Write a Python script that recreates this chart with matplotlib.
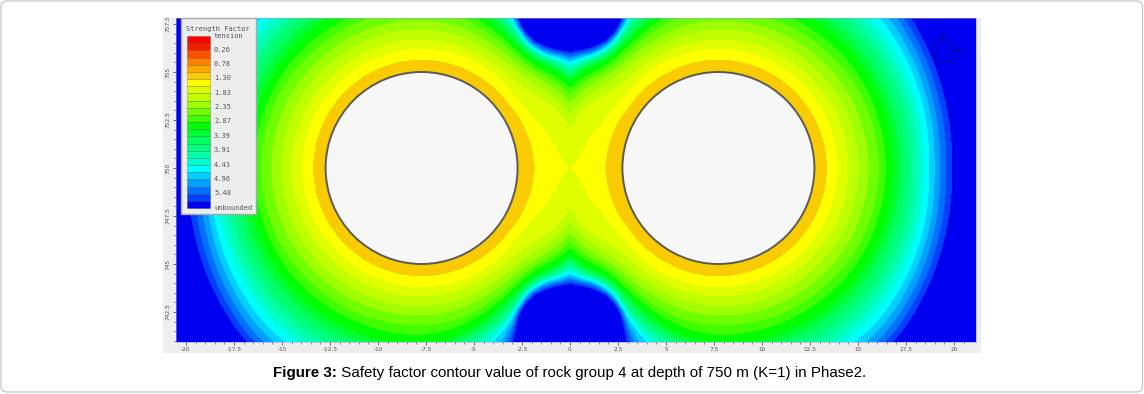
import numpy as np
import matplotlib
matplotlib.use("Agg")
import matplotlib.pyplot as plt
from matplotlib.patches import Circle, FancyBboxPatch, Rectangle

# ---- data (metres) ----
TUNNEL_X = 7.73
TUNNEL_R = 5.0
DEPTH = 750.0
# contour index: k is the boundary between legend row k and row k+1
K = [6, 7, 8, 9, 10, 11, 12, 13, 16, 19, 21, 23]
# angle at the tunnel centre (0 = towards the pillar) -> distance of each contour
RAY_ANGLES = [180, 165, 150, 135, 120, 105, 90, 75, 60, 52, 45, 40, 35, 30, 25, 20, 15, 10, 5, 0]
RAY_RADII = [
    [5.68, 6.25, 6.82, 7.34, 7.86, 8.39, 8.75, 9.11, 10.10, 10.99, 11.56, 12.19],
    [5.68, 6.25, 6.82, 7.34, 7.86, 8.39, 8.75, 9.17, 10.21, 11.15, 11.72, 12.34],
    [5.68, 6.25, 6.82, 7.34, 7.86, 8.39, 8.80, 9.22, 10.31, 11.35, 11.98, 12.60],
    [5.68, 6.25, 6.77, 7.29, 7.81, 8.33, 8.80, 9.27, 10.42, 11.56, 12.29, 12.92],
    [5.68, 6.25, 6.77, 7.29, 7.81, 8.33, 8.75, 9.27, 10.42, 11.56, 12.29, 12.92],
    [5.68, 6.25, 6.77, 7.29, 7.76, 8.28, 8.75, 9.27, 10.21, 11.15, 11.77, 12.29],
    [5.68, 6.25, 6.72, 7.24, 7.71, 8.23, 8.75, 9.27, 9.90, 10.63, 11.04, 11.90],
    [5.68, 6.25, 6.72, 7.19, 7.66, 8.13, 8.49, 8.91, 9.48, 10.42, 11.98, 13.54],
    [5.68, 6.25, 6.67, 7.08, 7.45, 7.81, 8.07, 8.33, 8.96, 9.27, 9.43, 9.64],
    [5.68, 6.25, 6.67, 7.08, 7.42, 7.71, 7.92, 8.13, 8.39, 8.54, 8.65, 8.75],
    [5.68, 6.20, 6.67, 7.08, 7.40, 7.66, 7.86, 8.07, 8.39, 8.65, 8.80, 9.01],
    [5.68, 6.20, 6.77, 7.24, 7.60, 7.86, 8.07, 8.33, 8.70, 8.90, 9.10, 9.40],
    [5.68, 6.20, 6.93, 7.45, 7.86, 8.18, 8.44, 8.85, 9.32, 9.80, 10.10, 10.44],
    [5.73, 6.30, 7.24, 7.76, 8.18, 8.49, 8.80, 9.01, 9.38, 9.90, 10.30, 10.80],
    [5.78, 6.41, 7.66, 8.07, 8.44, 8.75, 8.96, 9.17, 9.64, 10.21, 10.63, 11.15],
    [5.83, 6.61, 7.92, 8.33, 8.75, 9.11, 9.38, 9.64, 10.16, 10.78, 11.25, 11.77],
    [5.83, 6.88, 8.07, 8.49, 8.91, 9.32, 9.64, 9.90, 10.52, 11.15, 11.67, 12.29],
    [5.89, 7.08, 8.18, 8.65, 9.11, 9.53, 9.90, 10.21, 10.83, 11.46, 12.08, 12.76],
    [5.89, 7.29, 8.33, 8.85, 9.38, 9.79, 10.16, 10.52, 11.15, 11.88, 12.50, 13.13],
    [5.94, 7.73, 8.44, 8.96, 9.48, 10.00, 10.42, 10.83, 11.56, 12.29, 12.92, 13.54],
]

ROW_COLORS = ["#FF0000", "#EE2000", "#FF5000", "#FF8000", "#FFA800", "#F8CC00",
              "#FFFF00", "#DFFF00", "#BFFF00", "#9FFF00", "#70FF00", "#40FF00",
              "#00FF00", "#00FF30", "#00FF60", "#00FF80", "#00FFA8", "#00FFD0",
              "#00FFFF", "#00D0FF", "#00A0FF", "#0070FF", "#0040FF", "#0000F0"]
LEGEND_TITLE = "Strength Factor"
LEGEND_LABELS = ["tension", "0.26", "0.78", "1.30", "1.83", "2.35", "2.87", "3.39",
                 "3.91", "4.43", "4.96", "5.48", "unbounded"]
X_TICKS = [-20, -17.5, -15, -12.5, -10, -7.5, -5, -2.5, 0, 2.5, 5, 7.5, 10, 12.5, 15, 17.5, 20]
Y_TICKS = [742.5, 745, 747.5, 750, 752.5, 755, 757.5]
CAPTION_BOLD = "Figure 3:"
CAPTION = " Safety factor contour value of rock group 4 at depth of 750 m (K=1) in Phase2."

# ---- mesh round one tunnel: the read contours, with their corners rounded ----
table = np.array(RAY_RADII)
read_angles = np.array(RAY_ANGLES, dtype=float)
fine = np.arange(0.0, 181.0)
fine_r = np.column_stack([np.interp(fine, read_angles[::-1], table[::-1, j]) for j in range(table.shape[1])])
HALF = 5
kernel = np.ones(2 * HALF + 1) / (2 * HALF + 1)
pad = np.vstack([fine_r[HALF:0:-1], fine_r, fine_r[-2:-HALF - 2:-1]])
smooth = np.column_stack([np.convolve(pad[:, j], kernel, mode="valid") for j in range(pad.shape[1])])
# no rounding at the pillar centre, where the contours meet in a sharp X
blend = np.clip((fine - 5.0) / 10.0, 0, 1)[:, None]
smooth = blend * smooth + (1 - blend) * fine_r
angles = np.r_[-fine[::-1], fine[1:]]
radii = np.vstack([smooth[::-1], smooth[1:]])
radii = np.c_[np.full(len(angles), 4.6), radii, radii[:, -1] + 1.0, radii[:, -1] + 10.0]
values = np.array([5.2] + K + [24, 30], dtype=float)
th = np.deg2rad(angles)[:, None]
X = radii * np.cos(th)
Y = radii * np.sin(th)
V = np.tile(values, (len(angles), 1))

# ---- figure ----
W, H = 1144, 394
fig = plt.figure(figsize=(W / 100, H / 100), dpi=100, facecolor="white")

def px_axes(z):
    a = fig.add_axes([0, 0, 1, 1], zorder=z)
    a.set_xlim(0, W); a.set_ylim(H, 0); a.axis("off"); a.patch.set_alpha(0)
    return a

bg = px_axes(0)
bg.add_patch(FancyBboxPatch((1, 1), W - 2.5, H - 3, boxstyle="round,pad=0,rounding_size=6",
                            fc="white", ec="#C4C4C4", lw=0.9))
bg.add_patch(Rectangle((163, 15), 818, 338, fc="#EEEEEE", ec="none"))
bg.add_patch(Rectangle((163, 15), 818, 3, fc="white", ec="none"))

L, R, T, B = 176, 976, 18, 342
SCALE = 19.2
x0, x1 = (L - 570) / SCALE, (R - 570) / SCALE
y0, y1 = DEPTH - (B - 168) / SCALE, DEPTH + (168 - T) / SCALE
ax = fig.add_axes([L / W, 1 - B / H, (R - L) / W, (B - T) / H], zorder=1)

levels = list(range(5, 24)) + [100]
for side in (-1, 1):
    # each tunnel's field shows only on its own side of the pillar axis
    cs = ax.contourf(side * TUNNEL_X - side * X, DEPTH + Y, V,
                     levels=levels, colors=ROW_COLORS[5:], antialiased=False)
    left, width = (0.0, x1) if side > 0 else (x0, -x0)
    cs.set_clip_path(Rectangle((left, y0), width, y1 - y0, transform=ax.transData))
    cs.set_edgecolor("face")
    cs.set_linewidth(0.3)

for cx in (-TUNNEL_X, TUNNEL_X):
    ax.add_patch(Circle((cx, DEPTH), TUNNEL_R, fc="#F7F7F7", ec="#5A5A5A", lw=1.4, zorder=5))

ax.set_xlim(x0, x1)
ax.set_ylim(y0, y1)
ax.set_xticks(X_TICKS)
ax.set_xticklabels([f"{v:g}" for v in X_TICKS])
ax.set_yticks(Y_TICKS)
ax.set_yticklabels([f"{v:g}" for v in Y_TICKS], rotation=90, va="center")
ax.set_xticks(np.arange(-20, 21, 0.5), minor=True)
ax.set_yticks(np.arange(741, 758, 0.5), minor=True)
ax.tick_params(which="major", length=2.2, width=0.5, labelsize=4.2, labelcolor="#555555",
               color="#333333", pad=1.5)
ax.tick_params(which="minor", length=1.2, width=0.4, color="#333333")
for s in ax.spines.values():
    s.set_linewidth(0.4); s.set_color("#9A9AD0")

over = px_axes(2)
# compass symbol
over.add_patch(Rectangle((934, 43), 19, 17, fc="none", ec="#101070", lw=0.5))
over.annotate("", xy=(943, 43), xytext=(943, 28),
              arrowprops=dict(arrowstyle="-|>", color="#101070", lw=0.5, mutation_scale=5))
over.annotate("", xy=(953, 51), xytext=(967, 51),
              arrowprops=dict(arrowstyle="-|>", color="#101070", lw=0.5, mutation_scale=5))
# legend
over.add_patch(Rectangle((181, 18), 75, 196, fc="#EDEDED", ec="#A8A8A8", lw=1.0))
top, step = 36.0, 172.0 / 24
over.barh([top + step * (i + 0.5) for i in range(24)], [23] * 24, left=187, height=step,
          color=ROW_COLORS, edgecolor="#00000055", linewidth=0.4)
mono = dict(family="DejaVu Sans Mono", color="#555555", va="center")
over.text(186, 28.5, LEGEND_TITLE, fontsize=5.0, **mono)
ypos = [36] + [49.6 + 14.37 * i for i in range(11)] + [208]
for y, lab in zip(ypos, LEGEND_LABELS):
    over.text(214, y, lab, fontsize=5.0, **mono)

# caption
cap = dict(family="Liberation Sans", fontsize=10.9, color="black", va="center")
tb = over.text(273, 372.5, CAPTION_BOLD, fontweight="bold", **cap)
fig.canvas.draw()
ext = tb.get_window_extent()
over.text(ext.x1, 372.5, CAPTION, **cap)

fig.savefig("out.png", dpi=100)
